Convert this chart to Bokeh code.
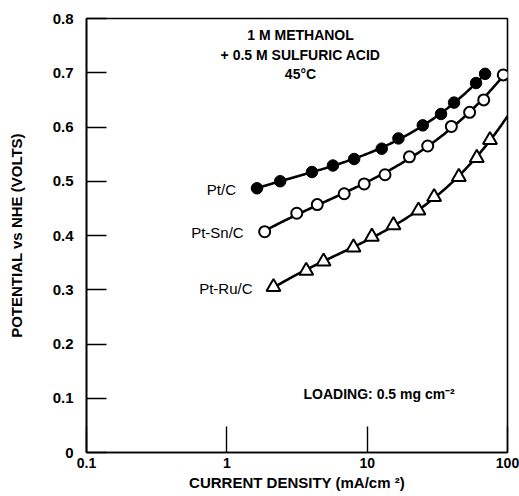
import numpy as np
from bokeh.plotting import figure
from bokeh.models import ColumnDataSource, FixedTicker, Label, LabelSet, Range1d
from bokeh.core.properties import value
from bokeh.embed import file_html
from bokeh.resources import INLINE

# --- data ---
ptc_x = [1.64, 2.40, 4.04, 5.70, 8.08, 12.7, 16.7, 24.9, 33.6, 41.6, 59.7, 69.2]
ptc_y = [0.487, 0.500, 0.517, 0.529, 0.541, 0.560, 0.579, 0.603, 0.624, 0.645, 0.681, 0.698]

ptsn_x = [1.86, 3.15, 4.41, 6.86, 9.52, 13.4, 20.0, 27.0, 39.8, 53.7, 67.7, 93.3]
ptsn_y = [0.407, 0.441, 0.457, 0.477, 0.495, 0.512, 0.545, 0.565, 0.601, 0.627, 0.650, 0.696]

ptru_x = [2.15, 3.68, 4.89, 7.99, 10.8, 15.4, 23.2, 30.0, 45.0, 60.4, 75.0]
ptru_y = [0.305, 0.335, 0.352, 0.378, 0.398, 0.419, 0.446, 0.471, 0.508, 0.543, 0.576]
# fitted curve of Pt-Ru/C continues to the right edge
ptru_curve_end_x = 100.0
ptru_curve_end_y = 0.621

series_names = ["Pt/C", "Pt-Sn/C", "Pt-Ru/C"]
x_ticks = [0.1, 1, 10, 100]
x_tick_labels = ["0.1", "1", "10", "100"]
y_ticks = [0, 0.1, 0.2, 0.3, 0.4, 0.5, 0.6, 0.7, 0.8]
y_tick_labels = ["0", "0.1", "0.2", "0.3", "0.4", "0.5", "0.6", "0.7", "0.8"]

FONT = "Liberation Sans"


def fit_curve(xs, ys, x_end=None, deg=3):
    lx = np.log10(np.asarray(xs, float))
    yy = np.asarray(ys, float)
    c = np.polyfit(lx, yy, deg)
    hi = np.log10(x_end) if x_end else lx.max()
    grid = np.linspace(lx.min(), hi, 200)
    return 10 ** grid, np.polyval(c, grid)


p = figure(width=519, height=496, x_axis_type="log",
           x_range=Range1d(0.1, 100), y_range=Range1d(0, 0.8),
           output_backend="svg", toolbar_location=None,
           min_border_left=86, min_border_right=12,
           min_border_top=18, min_border_bottom=44)
p.grid.visible = False
p.background_fill_color = "white"
p.border_fill_color = "white"
p.outline_line_color = "black"
p.outline_line_width = 1.6

# axes
p.xaxis.ticker = FixedTicker(ticks=x_ticks, minor_ticks=[])
p.xaxis.major_label_overrides = dict(zip(x_ticks, x_tick_labels))
p.yaxis.ticker = FixedTicker(ticks=y_ticks, minor_ticks=[])
p.yaxis.major_label_overrides = dict(zip(y_ticks, y_tick_labels))

for ax in (p.xaxis[0], p.yaxis[0]):
    ax.axis_line_color = "black"
    ax.axis_line_width = 1.6
    ax.major_tick_line_color = "black"
    ax.major_tick_line_width = 1.4
    ax.major_tick_out = 0
    ax.minor_tick_line_color = None
    ax.major_label_text_font = FONT
    ax.major_label_text_font_style = "bold"
    ax.major_label_text_font_size = "15px"
    ax.major_label_text_color = "black"
    ax.axis_label_text_font = FONT
    ax.axis_label_text_font_style = "bold"
    ax.axis_label_text_font_size = "15px"
    ax.axis_label_text_color = "black"

p.xaxis.major_label_text_font_size = "14px"
p.xaxis.major_tick_in = 26
p.yaxis.major_tick_in = 20
p.xaxis.major_label_standoff = 5
p.xaxis.axis_label_standoff = 3
p.yaxis.major_label_standoff = 13
p.yaxis.axis_label_standoff = 25
p.xaxis.axis_label = "CURRENT DENSITY (mA/cm \u00b2)"
p.yaxis.axis_label = "POTENTIAL vs NHE (VOLTS)"

# fitted curves
cx, cy = fit_curve(ptc_x, ptc_y)
p.line(cx, cy, line_color="black", line_width=2.6)
cx, cy = fit_curve(ptsn_x, ptsn_y)
p.line(cx, cy, line_color="black", line_width=2.6)
cx, cy = fit_curve(ptru_x + [ptru_curve_end_x], ptru_y + [ptru_curve_end_y], x_end=ptru_curve_end_x)
p.line(cx, cy, line_color="black", line_width=2.6)

# markers
p.scatter(ptc_x, ptc_y, marker="circle", size=11.5, fill_color="black", line_color="black")
p.scatter(ptsn_x, ptsn_y, marker="circle", size=11, fill_color="white",
          line_color="black", line_width=2)
p.scatter(ptru_x, ptru_y, marker="triangle", size=14, fill_color="white",
          line_color="black", line_width=2)

# series labels next to the first point of each series
lab_src = ColumnDataSource(dict(x=[ptc_x[0], ptsn_x[0], ptru_x[0]],
                                y=[ptc_y[0], ptsn_y[0], ptru_y[0]],
                                t=series_names))
p.add_layout(LabelSet(x="x", y="y", text="t", source=lab_src, x_offset=-21, y_offset=-1,
                      text_align="right", text_baseline="middle",
                      text_font=value(FONT), text_font_size="15px", text_color="black"))

# annotations
for txt, yy in [("1 M METHANOL", 0.769), ("+ 0.5 M SULFURIC ACID", 0.732), ("45\u00b0C", 0.697)]:
    p.add_layout(Label(x=3.35, y=yy, text=txt, text_align="center", text_baseline="middle",
                       text_font=FONT, text_font_style="bold",
                       text_font_size="14px", text_color="black"))

p.add_layout(Label(x=3.52, y=0.107, text="LOADING: 0.5 mg cm\u207b\u00b2",
                   text_align="left", text_baseline="middle",
                   text_font=FONT, text_font_style="bold",
                   text_font_size="14px", text_color="black"))

open("out.html", "w").write(file_html(p, INLINE))
